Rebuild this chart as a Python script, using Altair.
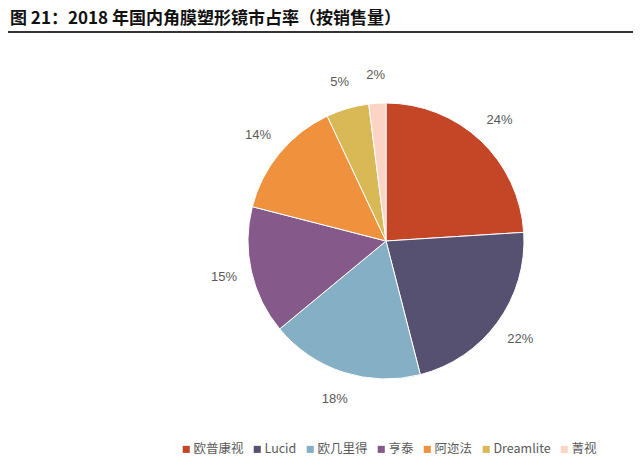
import altair as alt
import pandas as pd

brands = ["欧普康视", "Lucid", "欧几里得", "亨泰", "阿迩法", "Dreamlite", "菁视"]
shares = [24, 22, 18, 15, 14, 5, 2]
colors = ["#C44627", "#575171", "#85AFC4", "#855A8A", "#F0913D", "#D9B956", "#FCD4C5"]
title_text = "图 21：2018 年国内角膜塑形镜市占率（按销售量）"

df = pd.DataFrame({
    "brand": brands,
    "share": shares,
    "idx": list(range(len(brands))),
    "label": [f"{v}%" for v in shares],
})

W, H = 625, 414
CX, CY = 378, 198

base = alt.Chart(df).encode(
    theta=alt.Theta("share:Q", stack=True),
    order=alt.Order("idx:O"),
)

pie = base.mark_arc(outerRadius=138, stroke="white", strokeWidth=1).encode(
    x=alt.value(CX),
    y=alt.value(CY),
    color=alt.Color(
        "brand:N",
        scale=alt.Scale(domain=brands, range=colors),
        sort=brands,
        legend=alt.Legend(
            title=None,
            orient="none",
            legendX=172,
            legendY=400,
            direction="horizontal",
            symbolType="square",
            symbolSize=50,
            symbolStrokeWidth=0,
            symbolOffset=0,
            labelFont="Noto Sans CJK SC",
            labelFontSize=12.5,
            labelColor="#595959",
            columnPadding=7,
            labelOffset=1,
        ),
    ),
)

labels = base.mark_text(
    radius=166, font="Liberation Sans", fontSize=13, color="#595959"
).encode(
    x=alt.value(CX),
    y=alt.value(CY),
    text="label:N",
)

underline = alt.Chart(df).mark_rule(color="#333333", strokeWidth=2).encode(
    x=alt.value(0), x2=alt.value(W), y=alt.value(-11)
)

chart = alt.layer(pie, labels, underline).properties(
    width=W,
    height=H,
    autosize=alt.AutoSizeParams(type="none"),
    padding={"left": 0, "top": 35, "right": 0, "bottom": 0},
    title=alt.TitleParams(
        text=title_text,
        anchor="start",
        frame="group",
        font="Noto Sans CJK SC",
        fontSize=17,
        fontWeight="bold",
        color="#111111",
        offset=3,
        dx=2,
    ),
).configure_view(stroke=None)

chart.save("out.html", embed_options={"renderer": "svg", "actions": False})
